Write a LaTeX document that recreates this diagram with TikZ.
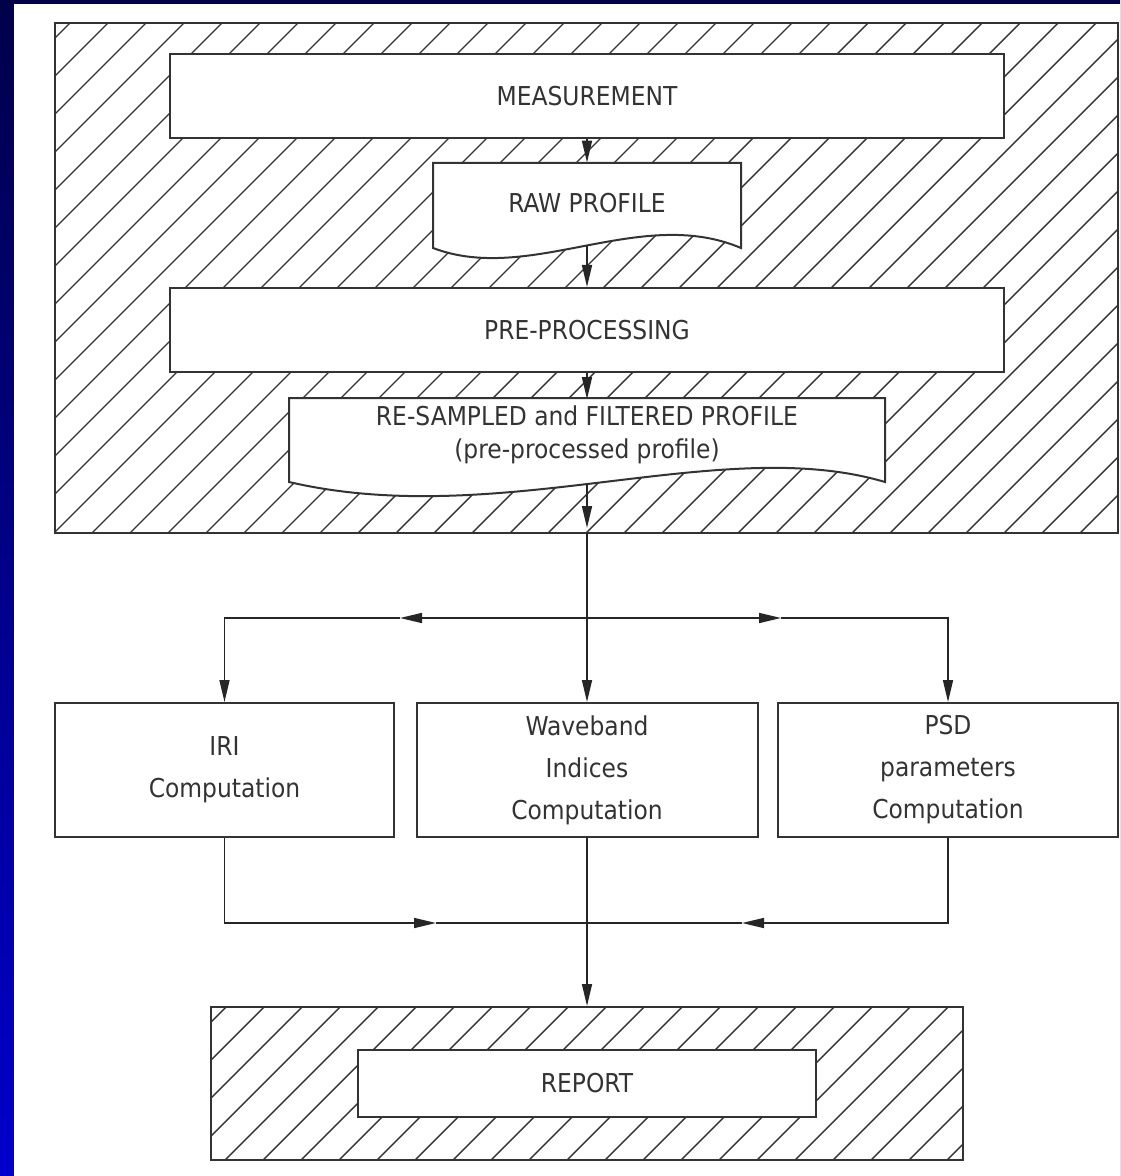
\documentclass[tikz,border=0pt]{standalone}
\usepackage{fontspec}
\setmainfont{DejaVu Sans Condensed}
\usetikzlibrary{arrows.meta,calc}
\definecolor{ink}{HTML}{333333}
\definecolor{navy}{HTML}{00004A}
\definecolor{royal}{HTML}{0000CC}

\begin{document}
\begin{tikzpicture}[x=0.5pt, y=-0.5pt,
    box/.style={draw=ink, line width=1pt, fill=white, inner sep=0pt, align=center,
                text=ink, font=\fontsize{13}{21}\selectfont},
    doc/.style={draw=ink, line width=1pt, fill=white},
    label/.style={inner sep=0pt, align=center, text=ink},
    frame/.style={draw=ink, line width=1pt, inner sep=0pt},
    hatch/.style={draw=ink, line width=0.7pt},
    flow/.style={draw=black!85, line width=0.8pt},
    tip/.style={-{Triangle[length=11pt, width=5pt]}}
  ]
  \useasboundingbox (0,0) rectangle (1120,1176);
  \shade[top color=navy, bottom color=royal] (0,0) rectangle (1120,1176);
  \fill[white] (14,4) rectangle (1120,1176);

  % acquisition block
  \begin{scope}
    \clip (55,23) rectangle (1118,533);
    \foreach \c in {93,131,...,1700}
      \draw[hatch] ({\c-20},20) -- ({\c-540},540);
  \end{scope}
  \node[frame, minimum width=531.5pt, minimum height=255pt] (acq) at (586.5,278) {};

  \node[box, minimum width=417pt, minimum height=42pt] (meas) at (587,96) {MEASUREMENT};

  \draw[doc] (433,163) -- (741,163) -- (741,248)
    .. controls (640,205) and (530,285) .. (433,248) -- cycle;
  \node[label, font=\fontsize{13}{21}\selectfont, minimum width=154pt, minimum height=40pt]
    (raw) at (587,203) {RAW PROFILE};
  \coordinate (rawbot) at (587,246);

  \node[box, minimum width=417pt, minimum height=42pt] (prep) at (587,330) {PRE-PROCESSING};

  \draw[doc] (289,398) -- (885,398) -- (885,482)
    .. controls (720,433) and (500,531) .. (289,482) -- cycle;
  \node[label, font=\fontsize{13}{16.5}\selectfont, minimum width=298pt, minimum height=35.5pt]
    (res) at (587,435) {RE-SAMPLED and FILTERED PROFILE\\(pre-processed profile)};
  \coordinate (resbot) at (587,484);

  % computations
  \node[box, minimum width=169.5pt, minimum height=67pt] (iri) at (224.5,770) {IRI\\Computation};
  \node[box, minimum width=170.5pt, minimum height=67pt] (wave) at (587,770) {Waveband\\Indices\\Computation};
  \node[box, minimum width=170pt, minimum height=67pt] (psd) at (948,770) {PSD\\parameters\\Computation};

  % report block
  \begin{scope}
    \clip (211,1007) rectangle (963,1160);
    \foreach \c in {1233,1271,...,2150}
      \draw[hatch] ({\c-1000},1000) -- ({\c-1170},1170);
  \end{scope}
  \node[frame, minimum width=376pt, minimum height=76.5pt] (out) at (587,1083.5) {};
  \node[box, minimum width=229pt, minimum height=33.5pt] (rep) at (587,1083.5) {REPORT};

  % connectors
  \coordinate (split) at (587,618);
  \coordinate (lmark) at (400,618);
  \coordinate (rmark) at (781,618);
  \coordinate (merge) at (587,923);
  \coordinate (lin) at (436,923);
  \coordinate (rin) at (742,923);

  \draw[flow, tip] (meas.south) -- (raw.north);
  \draw[flow, tip] (rawbot) -- (prep.north);
  \draw[flow, tip] (prep.south) -- (res.north);
  \draw[flow, tip] (resbot) -- (587,528);
  \draw[flow, tip] (587,533) -- (wave.north);
  \draw[flow, tip] (split) -- (lmark);
  \draw[flow, tip] (lmark) -| (iri.north);
  \draw[flow, tip] (split) -- (rmark);
  \draw[flow, tip] (rmark) -| (psd.north);
  \draw[flow, tip] (iri.south) |- (lin);
  \draw[flow] (lin) -- (merge);
  \draw[flow, tip] (psd.south) |- (rin);
  \draw[flow] (rin) -- (merge);
  \draw[flow, tip] (wave.south) -- (out.north);
\end{tikzpicture}
\end{document}
